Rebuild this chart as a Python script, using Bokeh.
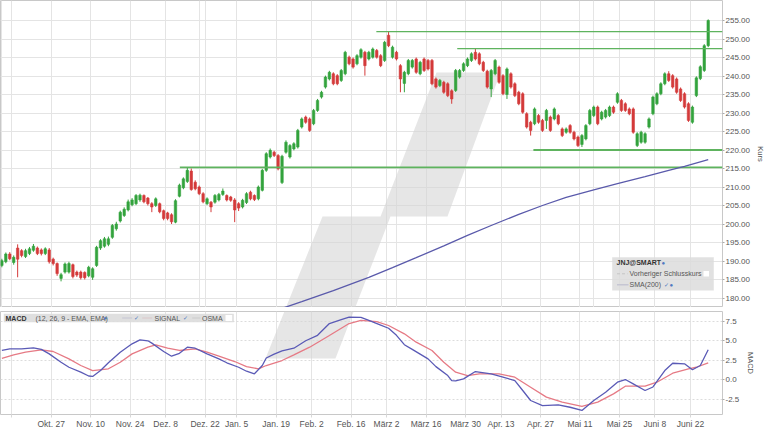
from bokeh.plotting import figure
from bokeh.models import (ColumnDataSource, Range1d, FixedTicker, PrintfTickFormatter,
                          BoxAnnotation, Label, Grid)
from bokeh.layouts import column
from bokeh.embed import file_html
from bokeh.resources import INLINE

FONT = "Liberation Sans"

# ---------------- data ----------------
tick_days = [3, 13, 23, 33, 42, 52, 60, 70, 79, 89, 98, 108, 118, 127, 137, 147, 157, 166, 175]
tick_labels = ["", "Okt. 27", "Nov. 10", "Nov. 24", "Dez. 8", "Dez. 22", "Jan. 5", "Jan. 19",
               "Feb. 2", "Feb. 16", "März 2", "März 16", "März 30", "Apr. 13", "Apr. 27",
               "Mai 11", "Mai 25", "Juni 8", "Juni 22"]
price_ticks = [180, 185, 190, 195, 200, 205, 210, 215, 220, 225, 230, 235, 240, 245, 250, 255]
macd_ticks = [-2.5, 0.0, 2.5, 5.0, 7.5]

opens = [188.8, 189.8, 191.9, 189.6, 193.5, 192.8, 191.2, 192.0, 192.9, 193.5,
         193.0, 192.0, 193.0, 190.5, 189.3, 185.3, 187.0, 187.0, 189.0, 187.0,
         187.0, 186.9, 186.0, 185.6, 188.8, 193.5, 194.0, 194.5, 196.4, 198.7,
         200.8, 202.3, 203.8, 205.2, 205.5, 206.5, 207.7, 207.0, 205.5, 205.0,
         205.5, 203.6, 203.0, 202.5, 200.5, 207.5, 209.8, 211.5, 214.3, 211.3,
         210.0, 208.2, 205.5, 205.9, 205.9, 206.5, 208.0, 207.7, 207.3, 206.5,
         205.5, 204.6, 205.8, 208.6, 207.7, 206.8, 209.1, 214.5, 218.1, 219.4,
         218.5, 211.2, 219.4, 218.1, 220.3, 220.8, 226.2, 228.9, 228.4, 227.1,
         230.7, 234.3, 237.0, 239.2, 240.6, 240.1, 238.8, 240.6, 245.1, 244.6,
         243.3, 245.1, 246.4, 244.6, 245.1, 246.9, 245.5, 244.2, 251.0, 245.1,
         246.4, 242.8, 238.0, 240.6, 242.4, 244.6, 240.6, 244.6, 244.2, 244.2,
         239.2, 237.4, 238.3, 237.9, 236.0, 236.1, 239.7, 241.5, 242.8, 244.2,
         246.4, 246.0, 243.7, 241.3, 236.5, 240.6, 242.4, 240.1, 235.0, 240.6,
         237.9, 235.6, 235.2, 229.8, 227.5, 227.1, 229.3, 228.0, 228.0, 228.9,
         228.4, 229.3, 225.7, 224.8, 226.6, 224.8, 223.5, 221.5, 223.0, 227.1,
         229.3, 231.6, 228.4, 228.9, 229.3, 231.6, 232.9, 233.4, 232.5, 231.1,
         231.1, 221.2, 222.1, 222.1, 226.2, 229.8, 232.5, 235.2, 237.9, 240.6,
         240.1, 239.2, 236.5, 235.2, 232.5, 227.5, 234.7, 239.3, 241.5, 248.2]
closes = [190.1, 191.9, 190.6, 191.0, 190.5, 191.5, 192.8, 193.3, 194.0, 192.0,
          192.0, 193.3, 189.8, 189.3, 186.6, 186.3, 189.2, 189.3, 185.8, 186.2,
          185.5, 185.5, 188.3, 187.9, 193.7, 195.5, 196.0, 196.0, 199.6, 200.0,
          203.2, 204.0, 206.0, 206.5, 207.7, 207.8, 206.0, 205.5, 204.6, 206.8,
          203.3, 201.5, 201.5, 200.6, 206.3, 210.5, 212.2, 214.5, 209.3, 209.5,
          208.2, 206.0, 206.8, 204.6, 207.7, 208.0, 208.9, 206.5, 206.4, 203.8,
          204.3, 206.4, 208.2, 206.8, 206.6, 210.0, 214.5, 219.0, 219.9, 218.5,
          214.9, 218.3, 222.1, 221.2, 221.7, 225.3, 228.4, 227.5, 225.3, 230.7,
          233.4, 235.6, 239.7, 241.0, 237.9, 237.9, 241.5, 246.4, 243.3, 242.4,
          245.5, 247.1, 242.8, 246.4, 247.3, 245.1, 242.8, 249.1, 248.2, 247.8,
          244.6, 239.2, 241.0, 244.2, 244.2, 241.0, 243.7, 241.5, 241.9, 237.9,
          237.0, 238.8, 235.6, 234.7, 233.8, 241.5, 241.5, 243.3, 244.6, 246.0,
          244.6, 243.3, 241.5, 237.0, 241.5, 244.2, 238.3, 235.2, 241.9, 237.0,
          234.7, 232.5, 230.2, 226.2, 225.3, 231.1, 227.5, 225.3, 230.7, 225.3,
          231.1, 227.1, 223.9, 225.7, 224.8, 223.0, 221.2, 223.9, 226.6, 230.7,
          231.6, 227.1, 230.2, 230.7, 231.6, 230.2, 235.2, 230.7, 230.7, 229.8,
          224.8, 224.4, 224.8, 224.4, 228.4, 234.3, 235.2, 237.9, 240.6, 238.8,
          237.0, 235.6, 233.4, 231.6, 228.0, 231.6, 239.5, 242.5, 248.2, 255.0]
highs = [190.6, 192.3, 192.4, 191.5, 194.5, 193.2, 193.3, 193.8, 194.6, 193.9,
         193.4, 193.7, 193.5, 190.9, 189.6, 186.8, 189.6, 189.8, 189.3, 187.4,
         187.4, 187.2, 188.7, 188.3, 194.1, 195.9, 196.5, 196.6, 200.0, 200.6,
         203.6, 204.5, 206.6, 207.0, 208.1, 208.2, 208.0, 207.3, 205.9, 207.2,
         205.8, 203.9, 203.3, 202.9, 206.7, 210.9, 212.6, 215.3, 215.0, 211.8,
         210.4, 208.6, 207.2, 206.2, 208.1, 208.4, 209.6, 208.0, 207.6, 207.0,
         205.9, 206.8, 208.6, 209.0, 208.0, 210.4, 214.9, 219.4, 220.4, 219.8,
         218.9, 218.7, 222.6, 221.6, 222.1, 225.7, 228.8, 229.3, 228.8, 231.1,
         233.8, 236.0, 240.1, 241.4, 241.0, 240.5, 241.9, 246.8, 245.5, 245.0,
         245.9, 247.5, 246.8, 246.8, 247.7, 247.3, 245.9, 249.5, 251.9, 248.2,
         246.8, 243.2, 241.4, 244.6, 244.6, 245.0, 244.1, 245.0, 244.6, 244.6,
         239.6, 239.2, 238.7, 238.3, 236.4, 241.9, 241.9, 243.7, 245.0, 246.4,
         247.3, 246.4, 244.1, 241.7, 241.9, 244.6, 242.8, 240.5, 242.3, 241.0,
         238.3, 236.0, 235.6, 230.2, 227.9, 231.5, 229.7, 228.4, 231.1, 229.3,
         231.5, 229.7, 226.1, 226.1, 227.0, 225.2, 223.9, 224.3, 227.0, 231.1,
         232.0, 232.0, 230.6, 231.1, 232.0, 232.0, 235.6, 233.8, 232.9, 231.5,
         231.5, 224.8, 225.2, 224.8, 228.8, 234.7, 235.6, 238.3, 241.0, 241.3,
         240.5, 239.6, 236.9, 235.6, 232.9, 232.0, 239.9, 242.9, 248.6, 255.3]
lows = [188.3, 189.4, 190.2, 189.0, 185.6, 191.0, 190.8, 191.6, 192.5, 191.6,
        191.5, 191.6, 189.3, 188.8, 186.0, 184.5, 186.6, 186.6, 185.3, 185.7,
        185.0, 185.0, 185.6, 184.9, 188.4, 193.0, 193.6, 194.0, 196.0, 198.2,
        200.4, 201.9, 203.4, 204.8, 205.1, 206.0, 205.6, 205.0, 203.2, 204.6,
        202.9, 201.0, 201.0, 200.0, 200.2, 207.2, 209.4, 211.1, 209.0, 209.1,
        207.8, 205.6, 205.1, 203.2, 205.5, 206.1, 207.6, 206.1, 206.0, 200.5,
        203.5, 204.2, 205.4, 206.4, 206.2, 206.4, 208.8, 214.1, 217.7, 218.1,
        214.5, 210.8, 219.0, 217.7, 219.9, 220.4, 225.8, 227.1, 224.9, 226.7,
        230.3, 233.9, 236.6, 238.8, 237.5, 237.5, 238.4, 240.2, 242.9, 242.0,
        242.9, 244.7, 240.1, 244.2, 244.7, 244.7, 242.4, 243.8, 247.8, 244.7,
        244.2, 235.6, 235.6, 240.2, 242.0, 240.6, 240.2, 241.1, 241.5, 237.5,
        236.6, 237.0, 235.2, 234.3, 232.5, 235.7, 239.3, 241.1, 242.4, 243.8,
        244.2, 242.9, 241.1, 236.6, 234.3, 240.2, 237.9, 234.8, 233.8, 236.6,
        234.3, 232.1, 229.8, 225.8, 223.9, 226.7, 227.1, 224.9, 225.7, 224.9,
        228.0, 226.7, 223.5, 224.4, 224.4, 222.6, 220.8, 220.8, 222.6, 226.7,
        228.9, 226.7, 228.0, 228.5, 228.9, 229.8, 232.5, 230.3, 230.3, 229.4,
        224.4, 220.8, 221.7, 221.7, 225.8, 229.4, 232.1, 234.8, 237.5, 238.4,
        236.6, 235.2, 233.0, 231.2, 227.6, 227.1, 234.3, 238.9, 241.1, 247.8]

sma_days = [71, 76, 80, 84, 93, 99, 105, 112, 118, 124, 131, 137, 143, 150, 156, 163, 169, 173, 179]
sma_vals = [177.2, 179.0, 180.5, 182.0, 185.6, 188.2, 190.9, 194.1, 196.9, 199.6, 202.6, 205.0,
            207.2, 209.2, 210.9, 212.8, 214.5, 215.6, 217.4]

level_prices = [252.0, 247.4, 220.0, 215.3]
level_start_days = [94.9, 115.4, 134.7, 45.1]

macd_days = [0, 2, 5, 8, 10, 12, 15, 17, 20, 22, 23, 25, 27, 30, 33, 35, 37, 38, 41, 43, 45, 47,
             49, 52, 55, 57, 60, 62, 64, 66, 67, 69, 71, 74, 77, 80, 83, 86, 88, 91, 93, 96, 98,
             100, 102, 104, 106, 108, 110, 113, 114, 115, 117, 120, 124, 127, 130, 132, 134,
             137, 141, 144, 147, 150, 153, 156, 158, 160, 163, 165, 168, 170, 173, 175, 177, 179]
macd_vals = [3.76, 3.97, 3.97, 4.1, 3.9, 3.33, 2.26, 1.62, 0.99, 0.5, 0.45, 1.2, 2.2, 3.54, 4.61,
             5.12, 5.0, 4.7, 3.63, 3.03, 3.4, 4.18, 4.05, 3.33, 2.69, 2.19, 1.62, 1.11, 0.78, 1.84,
             2.8, 3.3, 3.7, 4.05, 5.0, 5.7, 7.2, 7.7, 8.02, 8.0, 7.6, 7.0, 6.6, 5.7, 4.5, 3.9, 3.3,
             2.69, 1.7, 0.56, -0.08, -0.12, 0.14, 1.07, 0.78, 0.35, -0.08, -1.35, -2.63, -3.27,
             -3.18, -3.49, -3.9, -2.63, -1.57, -0.29, 0.05, -0.5, -1.35, -0.9, 1.2, 2.13, 2.06,
             1.3, 1.84, 3.85]
signal_days = [0, 3, 6, 10, 13, 17, 20, 23, 27, 30, 33, 37, 39, 42, 45, 49, 52, 55, 59, 62, 65,
               67, 71, 74, 78, 83, 88, 91, 95, 98, 102, 105, 109, 112, 115, 118, 121, 126, 130,
               134, 138, 142, 147, 151, 155, 158, 163, 166, 170, 174, 176, 179]
signal_vals = [2.75, 3.2, 3.54, 3.85, 3.63, 2.69, 1.84, 1.2, 1.42, 2.26, 3.33, 4.18, 4.49, 4.05,
               3.76, 3.97, 3.54, 3.03, 2.35, 1.71, 1.42, 1.84, 2.48, 3.2, 4.18, 5.67, 7.2, 7.6,
               7.45, 6.95, 5.89, 4.82, 3.76, 2.26, 0.99, 0.56, 0.78, 0.78, 0.35, -0.93, -2.2,
               -2.84, -3.39, -2.84, -1.78, -0.8, -0.8, -0.29, 0.86, 1.42, 1.62, 2.19]

# ---------------- reference pixel -> data helpers (decorations only) ----------------
def kx(px):
    return (px - 1.37) / 3.946

def yp(py):
    return 255 - (py - 20) / 3.70

def ym(py):
    return 7.5 - (py - 320.7) / 7.83

GREEN = "#33a33d"
RED = "#d43a3a"
GRID = "#e4e4e4"
TXT = "#555555"
LEVEL = "#5eb35e"
TICK = "#aaaaaa"

xr = Range1d(kx(0), kx(722))
tick_pos = [d - 0.5 for d in tick_days]


def style_right_axis(a, label, label_standoff):
    a.axis_line_color = None
    a.major_tick_line_color = TICK
    a.major_tick_in = 0
    a.major_tick_out = 2
    a.minor_tick_line_color = None
    a.major_label_standoff = 1
    a.major_label_text_font_size = "8px"
    a.major_label_text_font = FONT
    a.major_label_text_color = TXT
    a.axis_label = label
    a.axis_label_text_font_size = "7.5px"
    a.axis_label_text_font = FONT
    a.axis_label_text_font_style = "normal"
    a.axis_label_text_color = TXT
    a.axis_label_standoff = label_standoff


# ---------------- price panel ----------------
p = figure(frame_width=722, frame_height=307, x_range=xr, y_range=Range1d(yp(307), yp(0)),
           x_axis_location=None, y_axis_location="right", toolbar_location=None,
           output_backend="svg", min_border_left=0, min_border_top=0, min_border_bottom=0,
           min_border_right=0, outline_line_color="#c8c8c8", background_fill_color="white",
           border_fill_color="white")
p.add_layout(Grid(dimension=0, ticker=FixedTicker(ticks=tick_pos), grid_line_color=GRID))
p.ygrid.ticker = FixedTicker(ticks=price_ticks)
p.ygrid.grid_line_color = GRID
ax = p.yaxis[0]
ax.ticker = FixedTicker(ticks=price_ticks)
ax.formatter = PrintfTickFormatter(format="%.2f")
style_right_axis(ax, "Kurs", 3)

# watermark (decorative logo)
wm_px = [436, 500, 447, 390, 335, 265, 322, 380]
wm_py = [72, 72, 216, 216, 358, 358, 216, 216]
p.patch([kx(v) for v in wm_px], [yp(v) for v in wm_py], fill_color="#d6d6d6",
        fill_alpha=0.6, line_color=None)

days = list(range(len(closes)))
colors = [GREEN if c >= o else RED for o, c in zip(opens, closes)]
src = ColumnDataSource(dict(x=days, o=opens, c=closes, h=highs, l=lows, col=colors))
p.segment("x", "h", "x", "l", source=src, line_color="col", line_width=1)
p.vbar(x="x", width=0.62, top="o", bottom="c", source=src, fill_color="col", line_color="col",
       line_width=0.6)

lvl_src = ColumnDataSource(dict(x0=level_start_days, x1=[xr.end] * len(level_prices),
                                y=level_prices, w=[1.2, 1.2, 2.0, 1.6],
                                col=[LEVEL] * len(level_prices)))
p.segment("x0", "y", "x1", "y", source=lvl_src, line_color="col", line_width="w")

p.line(sma_days, sma_vals, line_color="#5a5aab", line_width=1.3)

# legend box (price panel)
p.add_layout(BoxAnnotation(left=kx(611.7), right=kx(713.3), top=yp(256.7), bottom=yp(290),
                           fill_color="#dcdcdc", fill_alpha=0.85, line_color=None))
p.add_layout(Label(x=kx(616), y=yp(262.3), text="JNJ@SMART", text_font=FONT,
                   text_font_size="7px", text_font_style="bold", text_color="#333333",
                   text_baseline="middle"))
p.add_layout(Label(x=kx(661), y=yp(262.3), text="●", text_font_size="6px",
                   text_color="#4f78c0", text_baseline="middle"))
p.segment(x0=[kx(616.5)], x1=[kx(627)], y0=[yp(273.3)], y1=[yp(273.3)],
          line_color="#444444", line_width=1, line_dash="3 2")
p.add_layout(Label(x=kx(629), y=yp(273.3), text="Vorheriger Schlusskurs", text_font=FONT,
                   text_font_size="7px", text_color="#555555", text_baseline="middle"))
p.add_layout(BoxAnnotation(left=kx(703), right=kx(708.5), top=yp(270.5), bottom=yp(276),
                           fill_color="white", fill_alpha=1.0, line_color=None))
p.segment(x0=[kx(616.5)], x1=[kx(628)], y0=[yp(284.3)], y1=[yp(284.3)],
          line_color="#4a4a9e", line_width=1.5)
p.add_layout(Label(x=kx(629), y=yp(284.3), text="SMA(200)", text_font=FONT,
                   text_font_size="7px", text_color="#555555", text_baseline="middle"))
p.add_layout(Label(x=kx(663), y=yp(284.3), text="✓", text_font_size="6px",
                   text_color="#4f78c0", text_baseline="middle"))
p.add_layout(Label(x=kx(669), y=yp(284.3), text="●", text_font_size="6px",
                   text_color="#4f78c0", text_baseline="middle"))

# ---------------- MACD panel ----------------
m = figure(frame_width=722, frame_height=103, x_range=xr, y_range=Range1d(ym(414), ym(311)),
           x_axis_location="below", y_axis_location="right", toolbar_location=None,
           output_backend="svg", min_border_left=0, min_border_top=4, min_border_bottom=0,
           min_border_right=0, outline_line_color="#c8c8c8", background_fill_color="white",
           border_fill_color="white")
xa = m.xaxis[0]
xa.ticker = FixedTicker(ticks=tick_pos)
xa.major_label_overrides = {t: lab for t, lab in zip(tick_pos, tick_labels)}
xa.axis_line_color = None
xa.major_tick_line_color = "#d8d8d8"
xa.major_tick_in = 0
xa.major_tick_out = 3
xa.minor_tick_line_color = None
xa.major_label_standoff = 1
xa.major_label_text_font_size = "8.5px"
xa.major_label_text_font = FONT
xa.major_label_text_color = TXT
m.xgrid.grid_line_color = GRID
m.ygrid.ticker = FixedTicker(ticks=macd_ticks)
m.ygrid.grid_line_color = "#dcdcdc"
m.ygrid.grid_line_dash = "2 2"
ya = m.yaxis[0]
ya.ticker = FixedTicker(ticks=macd_ticks)
ya.formatter = PrintfTickFormatter(format="%.1f")
style_right_axis(ya, "MACD", 4)

m.patch([kx(v) for v in wm_px], [ym(v) for v in wm_py], fill_color="#d6d6d6",
        fill_alpha=0.6, line_color=None)
m.line(signal_days, signal_vals, line_color="#e67a85", line_width=1.3)
m.line(macd_days, macd_vals, line_color="#5a5ab6", line_width=1.3)

# MACD legend strip
ly = ym(317.5)
m.add_layout(BoxAnnotation(left=kx(3.3), right=kx(233.3), top=ym(313.3), bottom=ym(321.7),
                           fill_color="#dcdcdc", fill_alpha=0.9, line_color=None))
m.add_layout(Label(x=kx(5), y=ly, text="MACD", text_font=FONT, text_font_size="7px",
                   text_font_style="bold", text_color="#333333", text_baseline="middle"))
m.add_layout(Label(x=kx(35), y=ly, text="(12, 26, 9 - EMA, EMA)", text_font=FONT,
                   text_font_size="7px", text_color="#555555", text_baseline="middle"))
m.add_layout(Label(x=kx(103), y=ly, text="●", text_font_size="6px", text_color="#4f78c0",
                   text_baseline="middle"))
m.segment(x0=[kx(121.7)], x1=[kx(131.7)], y0=[ly], y1=[ly], line_color="#4a4aa8", line_width=1.5)
m.add_layout(Label(x=kx(133), y=ly, text="✓", text_font_size="6px", text_color="#4f78c0",
                   text_baseline="middle"))
m.segment(x0=[kx(141.7)], x1=[kx(151.7)], y0=[ly], y1=[ly], line_color="#e0606c", line_width=1.5)
m.add_layout(Label(x=kx(154), y=ly, text="SIGNAL", text_font=FONT, text_font_size="7px",
                   text_color="#555555", text_baseline="middle"))
m.add_layout(Label(x=kx(182), y=ly, text="✓", text_font_size="6px", text_color="#4f78c0",
                   text_baseline="middle"))
m.segment(x0=[kx(191.7)], x1=[kx(200)], y0=[ly], y1=[ly], line_color="#777777", line_width=1.5)
m.add_layout(Label(x=kx(201.5), y=ly, text="OSMA", text_font=FONT, text_font_size="7px",
                   text_color="#555555", text_baseline="middle"))
m.add_layout(BoxAnnotation(left=kx(225), right=kx(231.7), top=ym(314.5), bottom=ym(320.5),
                           fill_color="white", fill_alpha=1.0, line_color=None))

layout = column(p, m, spacing=0)
open("out.html", "w").write(file_html(layout, INLINE))
